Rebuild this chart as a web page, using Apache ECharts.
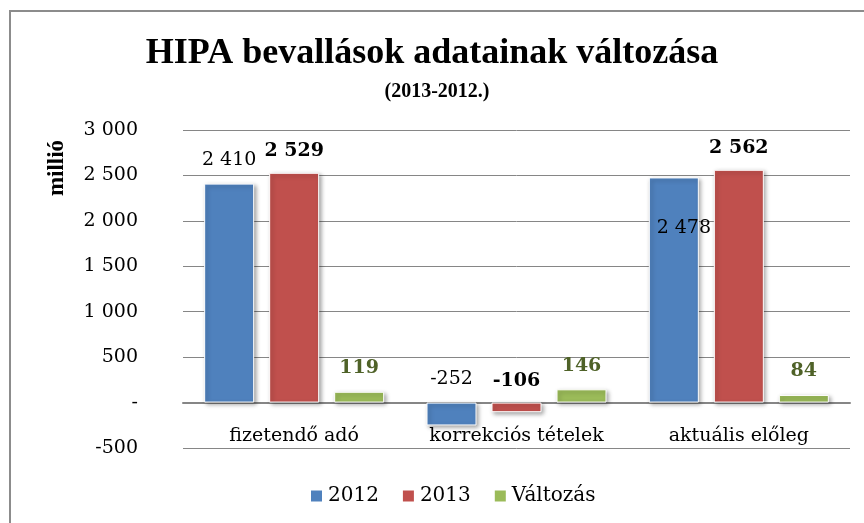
<!DOCTYPE html>
<html>
<head>
<meta charset="utf-8">
<script src="https://cdn.jsdelivr.net/npm/echarts@6/dist/echarts.min.js"></script>
<style>
  html, body { margin: 0; padding: 0; background: #fff; }
  #main { width: 864px; height: 523px; }
</style>
</head>
<body>
<div id="main"></div>
<script>
// chart data
var categories = ["fizetendő adó", "korrekciós tételek", "aktuális előleg"];
var seriesNames = ["2012", "2013", "Változás"];
var values2012 = [2410, -252, 2478];
var values2013 = [2529, -106, 2562];
var valuesChange = [119, 146, 84];
var yTicks = { min: -500, max: 3000, step: 500 };

var titleFont = "Liberation Serif";
var serifFont = "DejaVu Serif";
var colors = ["#4F81BD", "#C0504D", "#9BBB59"];

function fmt(v) {
  if (v === 0) return "-";
  var s = String(Math.abs(v)).replace(/\B(?=(\d{3})+(?!\d))/g, " ");
  return (v < 0 ? "-" : "") + s;
}

var barShadow = {
  borderColor: "#fff",
  borderWidth: 1,
  shadowBlur: 4,
  shadowColor: "rgba(0,0,0,0.35)",
  shadowOffsetX: 2,
  shadowOffsetY: 2
};

var myEchart = echarts.init(document.getElementById("main"));

// third 2012 label sits inside the bar, like in the original
var data2012 = values2012.map(function (v, i) {
  if (i === 2) {
    return { value: v, label: { position: "insideTop", offset: [10, 27] } };
  }
  return v;
});

var option = {
  backgroundColor: "#fff",
  animation: false,
  title: [
    {
      text: "HIPA bevallások adatainak változása",
      left: "center",
      top: 31,
      textStyle: { fontFamily: titleFont, fontSize: 36, fontWeight: "bold", color: "#000" }
    },
    {
      text: "(2013-2012.)",
      left: 432,
      top: 77,
      textAlign: "center",
      textStyle: { fontFamily: titleFont, fontSize: 20, fontWeight: "bold", color: "#000" }
    }
  ],
  graphic: [
    {
      type: "rect",
      shape: { x: 10, y: 11, width: 900, height: 600 },
      style: { fill: "none", stroke: "#8c8c8c", lineWidth: 2 },
      silent: true
    },
    {
      type: "text",
      x: 57,
      y: 168,
      rotation: Math.PI / 2,
      style: {
        text: "millió",
        font: "bold 23px 'Liberation Serif'",
        fill: "#000",
        textAlign: "center",
        textVerticalAlign: "middle"
      },
      silent: true
    }
  ],
  legend: {
    data: seriesNames,
    bottom: 12,
    left: 304,
    itemWidth: 13,
    itemHeight: 13,
    itemGap: 22,
    icon: "rect",
    textStyle: { fontFamily: serifFont, fontSize: 20, color: "#000" }
  },
  grid: {
    left: 183,
    right: 14,
    top: 130,
    bottom: 75
  },
  xAxis: {
    type: "category",
    data: categories,
    axisLine: { onZero: true, lineStyle: { color: "#868686", width: 2 } },
    axisTick: { show: false },
    axisLabel: { interval: 0, fontFamily: serifFont, fontSize: 19, color: "#000", margin: -21 }
  },
  yAxis: {
    type: "value",
    min: yTicks.min,
    max: yTicks.max,
    interval: yTicks.step,
    axisLine: { show: false },
    axisTick: { show: false },
    splitLine: { lineStyle: { color: "#868686", width: 1 } },
    axisLabel: {
      fontFamily: serifFont, fontSize: 19, color: "#000", margin: 45,
      formatter: fmt
    }
  },
  series: [
    {
      name: seriesNames[0],
      type: "bar",
      data: data2012,
      barWidth: 50,
      barGap: "30%",
      itemStyle: Object.assign({ color: colors[0] }, barShadow),
      label: {
        show: true, position: "top", distance: 14, formatter: function (p) { return fmt(p.value); },
        fontFamily: serifFont, fontSize: 19, color: "#000"
      }
    },
    {
      name: seriesNames[1],
      type: "bar",
      data: values2013,
      barWidth: 50,
      barGap: "30%",
      itemStyle: Object.assign({ color: colors[1] }, barShadow),
      label: {
        show: true, position: "top", distance: 12, formatter: function (p) { return fmt(p.value); },
        fontFamily: serifFont, fontSize: 19, fontWeight: "bold", color: "#000"
      }
    },
    {
      name: seriesNames[2],
      type: "bar",
      data: valuesChange,
      barWidth: 50,
      barGap: "30%",
      itemStyle: Object.assign({ color: colors[2] }, barShadow),
      label: {
        show: true, position: "top", distance: 14, formatter: function (p) { return fmt(p.value); },
        fontFamily: serifFont, fontSize: 19, fontWeight: "bold", color: "#4F6228"
      }
    }
  ]
};

option && myEchart.setOption(option);
</script>
</body>
</html>
